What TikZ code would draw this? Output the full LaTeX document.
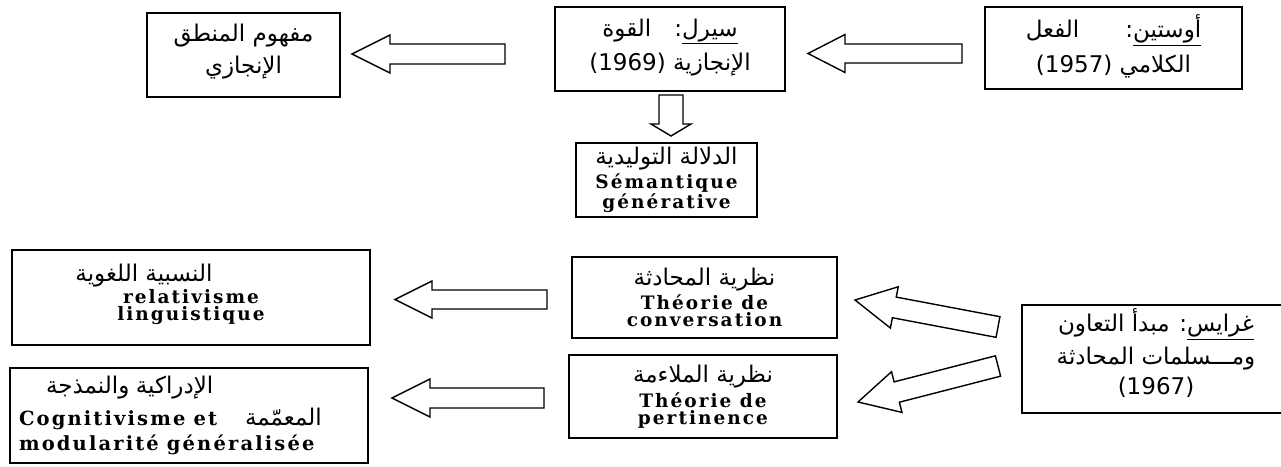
\documentclass[tikz,border=0pt]{standalone}
\usepackage{fontspec}
\usetikzlibrary{calc}
\TeXXeTstate=1
\newfontfamily\arabicfont[Script=Arabic]{DejaVu Sans}
\newfontfamily\frfont[LetterSpace=11]{DejaVu Serif}
% Arabic run (right to left) and bold French run
\newcommand\artxt[1]{{\arabicfont\mdseries\fontsize{23}{17}\selectfont\beginR #1\endR}}
\newcommand\frtxt[1]{{\frfont\bfseries #1}}
% block arrow: tail, tip, shaft half width, head half width, head length
\newcommand\blockarrow[5]{%
  \coordinate (hb) at ($(#2)!#5!(#1)$);
  \draw[blockline] ($(#1)!#3!90:(#2)$) -- ($(hb)!#3!90:(#2)$) -- ($(hb)!#4!90:(#2)$)
    -- (#2) -- ($(hb)!#4!-90:(#2)$) -- ($(hb)!#3!-90:(#2)$) -- ($(#1)!#3!-90:(#2)$) -- cycle;
}
\tikzset{
  box/.style={draw, line width=1.6pt, rectangle, inner sep=0pt, align=center,
    font=\fontsize{18.5}{17}\selectfont},
  blockline/.style={line width=1.4pt, line join=miter, fill=white}
}
\begin{document}
\begin{tikzpicture}[x=1pt, y=-1pt]
\useasboundingbox (0,0) rectangle (1281,466);

% top row
\node[box, minimum width=193pt, minimum height=84pt] (logic) at (243.5,55)
  {\artxt{مفهوم المنطق}\\[8pt] \artxt{الإنجازي}\\[-4pt]\mbox{}};
\node[box, minimum width=230pt, minimum height=84pt] (searle) at (670,49)
  {\artxt{\underline{سيرل}:\quad القوة}\\[8pt] \artxt{الإنجازية \beginL(1969)\endL}\\[-8pt]\mbox{}};
\node[box, minimum width=257pt, minimum height=82pt] (austin) at (1113.5,48)
  {\artxt{\underline{أوستين}:\qquad الفعل}\\[8pt] \artxt{الكلامي \beginL(1957)\endL}\\[-8pt]\mbox{}};

\node[box, minimum width=181pt, minimum height=74pt] (semantic) at (666.5,180)
  {\artxt{الدلالة التوليدية}\\[2pt] \frtxt{Sémantique}\\[1pt] \frtxt{générative}};

% lower rows
\node[box, minimum width=358pt, minimum height=95pt] (relativ) at (191,297.5)
  {\artxt{النسبية اللغوية}\hspace*{94pt}\\[1pt] \frtxt{relativisme}\\ \frtxt{linguistique}\\[-6pt]\mbox{}};
\node[box, minimum width=265pt, minimum height=81pt] (conv) at (704.5,297.5)
  {\artxt{نظرية المحادثة}\\[3pt] \frtxt{Théorie de}\\ \frtxt{conversation}};
\node[box, minimum width=268pt, minimum height=83pt] (pert) at (703,396.5)
  {\artxt{نظرية الملاءمة}\\[3pt] \frtxt{Théorie de}\\ \frtxt{pertinence}};
\node[box, minimum width=358pt, minimum height=95pt, text width=340pt, align=left,
      font=\fontsize{19.5}{17}\selectfont] (cogn) at (189,415.5)
  {\hspace*{27pt}\artxt{الإدراكية والنمذجة}\\[8pt]
   \frtxt{Cognitivisme\hspace{8pt}et}\hspace{28pt}\artxt{المعمّمة}\\[4pt]
   \frtxt{modularité\hspace{8pt}généralisée}};
\node[box, minimum width=268pt, minimum height=108pt] (grice) at (1156,359)
  {\artxt{\underline{غرايس}: مبدأ التعاون}\\[6pt] \artxt{ومـــسلمات المحادثة}\\[6pt]
   \artxt{\beginL(1967)\endL}\\[-2pt]\mbox{}};

% arrow ends
\coordinate (a1tail) at (962,53.5);  \coordinate (a1tip) at (808,53.5);
\coordinate (a2tail) at (505,54);    \coordinate (a2tip) at (352,54);
\coordinate (a3tail) at (671,95);    \coordinate (a3tip) at (671,136);
\coordinate (a4tail) at (547,299.5); \coordinate (a4tip) at (395,299.5);
\coordinate (a5tail) at (544,398);   \coordinate (a5tip) at (392,398);
\coordinate (a6tail) at (998,327);   \coordinate (a6tip) at (855,300);
\coordinate (a7tail) at (998,366);   \coordinate (a7tip) at (858,402);

\blockarrow{a1tail}{a1tip}{9.5pt}{19pt}{37pt}
\blockarrow{a2tail}{a2tip}{10pt}{19pt}{38pt}
\blockarrow{a3tail}{a3tip}{12pt}{20pt}{12pt}
\blockarrow{a4tail}{a4tip}{9.5pt}{18.5pt}{37pt}
\blockarrow{a5tail}{a5tip}{10pt}{19pt}{38pt}
\blockarrow{a6tail}{a6tip}{10.5pt}{21pt}{40pt}
\blockarrow{a7tail}{a7tip}{10.5pt}{21pt}{40pt}
\end{tikzpicture}
\end{document}
